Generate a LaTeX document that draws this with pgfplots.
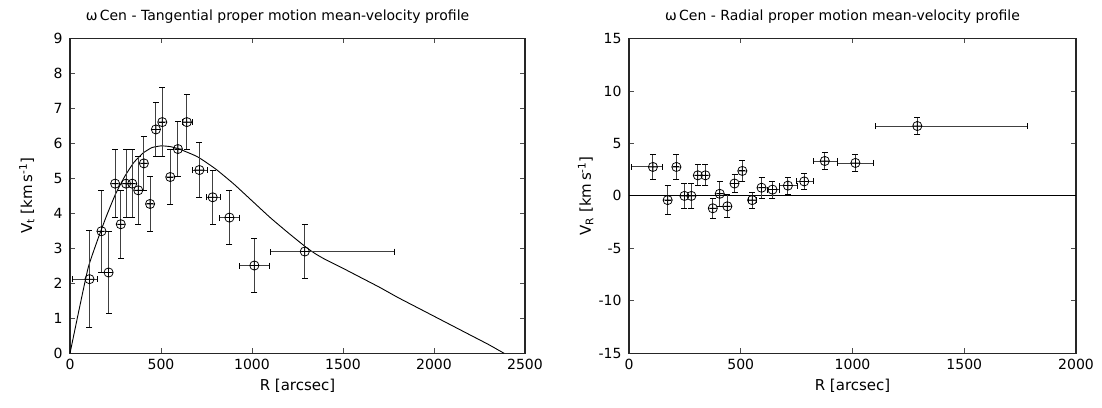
\documentclass[border=0pt]{standalone}
\usepackage{pgfplots}
\pgfplotsset{compat=1.18}
\usepackage{pgfplotstable}
\usetikzlibrary{plotmarks}
\usepackage{fontspec}
\setmainfont{DejaVu Sans}

% x, y, y error, x error minus, x error plus
\pgfplotstableread{
x y ey xm xp
107 2.12 1.38 95 43
173 3.49 1.18 0 0
212 2.31 1.18 0 0
248 4.85 0.98 0 0
279 3.69 0.98 0 0
308 4.85 0.98 0 0
342 4.85 0.98 0 0
375 4.66 0.98 0 0
406 5.43 0.78 0 0
440 4.27 0.78 0 0
472 6.40 0.78 0 0
507 6.61 0.98 0 0
551 5.04 0.78 0 0
593 5.84 0.78 0 0
642 6.61 0.78 22 30
711 5.24 0.78 38 44
784 4.46 0.78 37 41
876 3.88 0.78 53 57
1013 2.51 0.78 80 82
1290 2.91 0.78 188 492
}\tangdata

\pgfplotstableread{
x y ey xm xp
107 2.76 1.2 95 43
173 -0.40 1.35 0 0
212 2.76 1.2 0 0
248 0.00 1.2 0 0
279 0.00 1.2 0 0
308 1.96 1.0 0 0
342 1.96 1.0 0 0
375 -1.18 0.96 0 0
406 0.20 1.17 0 0
440 -0.99 1.1 0 0
472 1.18 0.85 0 0
507 2.38 1.0 0 0
551 -0.40 0.77 16 19
593 0.78 1.0 0 0
642 0.60 0.8 22 30
711 0.98 0.8 38 44
784 1.38 0.8 37 41
876 3.33 0.77 53 57
1013 3.14 0.8 80 82
1290 6.66 0.8 188 492
}\raddata

\pgfplotstableread{
x y
0 0
50 1.25
100 2.45
150 3.22
200 3.92
250 4.55
300 5.05
350 5.45
400 5.72
450 5.88
500 5.93
550 5.91
600 5.84
700 5.62
800 5.27
900 4.84
1000 4.36
1100 3.88
1200 3.44
1300 3.02
1350 2.84
1400 2.69
1450 2.56
1500 2.43
1600 2.16
1700 1.89
1800 1.60
1900 1.33
2000 1.06
2100 0.79
2200 0.52
2300 0.25
2385 0
}\model

\pgfplotsset{
  myaxis/.style={
    scale only axis,
    axis line style={line width=1.1pt, black!85},
    tick style={line width=0.8pt, black!70},
    major tick length=5pt,
    tick align=inside,
    xtick pos=both, ytick pos=both,
    ticklabel style={font=\fontsize{14}{16}\selectfont},
    label style={font=\fontsize{15}{17}\selectfont},
    title style={font=\fontsize{14}{16}\selectfont},
    /pgf/number format/assume math mode=true,
    /pgf/number format/1000 sep={},
    scaled ticks=false,
    yticklabel style={xshift=-4pt},
    xticklabel style={yshift=-2pt},
    clip=true,
  },
  ebar/.style={
    only marks, mark=oplus, mark size=4.6pt,
    mark options={line width=0.75pt, black},
    error bars/.cd, y dir=both, y explicit, x dir=both, x explicit,
    error bar style={line width=0.9pt, black!75},
    error mark options={rotate=90, mark size=3pt, line width=0.9pt, black},
  },
}

\begin{document}
\begin{tikzpicture}
\useasboundingbox (0,0) rectangle (1102pt,407pt);

\begin{axis}[myaxis,
  at={(70pt,53.7pt)}, anchor=south west,
  width=455pt, height=314.8pt,
  xmin=0, xmax=2500, ymin=0, ymax=9,
  xtick={0,500,...,2500}, ytick={0,1,...,9},
  xlabel={R [arcsec]},
  ylabel={V\textsubscript{t} [km\,s\textsuperscript{-1}]},
  xlabel style={at={(axis description cs:0.5,0)}, anchor=north, yshift=-22pt},
  ylabel style={at={(axis description cs:0,0.5)}, anchor=south, yshift=32pt},
  title={ω\,Cen - Tangential proper motion mean-velocity profile},
  title style={at={(axis description cs:0.5,1)}, anchor=south, yshift=6pt, xshift=-20pt},
]
\addplot[black, line width=0.9pt, smooth, tension=0.3] table[x=x, y=y] {\model};
\addplot[ebar] table[x=x, y=y, y error=ey, x error minus=xm, x error plus=xp] {\tangdata};
\end{axis}

\begin{axis}[myaxis,
  at={(629pt,53.7pt)}, anchor=south west,
  width=447pt, height=314.8pt,
  xmin=0, xmax=2000, ymin=-15, ymax=15,
  xtick={0,500,...,2000}, ytick={-15,-10,...,15},
  xlabel={R [arcsec]},
  ylabel={V\textsubscript{R} [km\,s\textsuperscript{-1}]},
  xlabel style={at={(axis description cs:0.5,0)}, anchor=north, yshift=-22pt},
  ylabel style={at={(axis description cs:0,0.5)}, anchor=south, yshift=32pt},
  title={ω\,Cen - Radial proper motion mean-velocity profile},
  title style={at={(axis description cs:0.5,1)}, anchor=south, yshift=6pt, xshift=-10pt},
]
\addplot[black, line width=0.9pt] coordinates {(0,0) (2000,0)};
\addplot[ebar] table[x=x, y=y, y error=ey, x error minus=xm, x error plus=xp] {\raddata};
\end{axis}
\end{tikzpicture}
\end{document}
